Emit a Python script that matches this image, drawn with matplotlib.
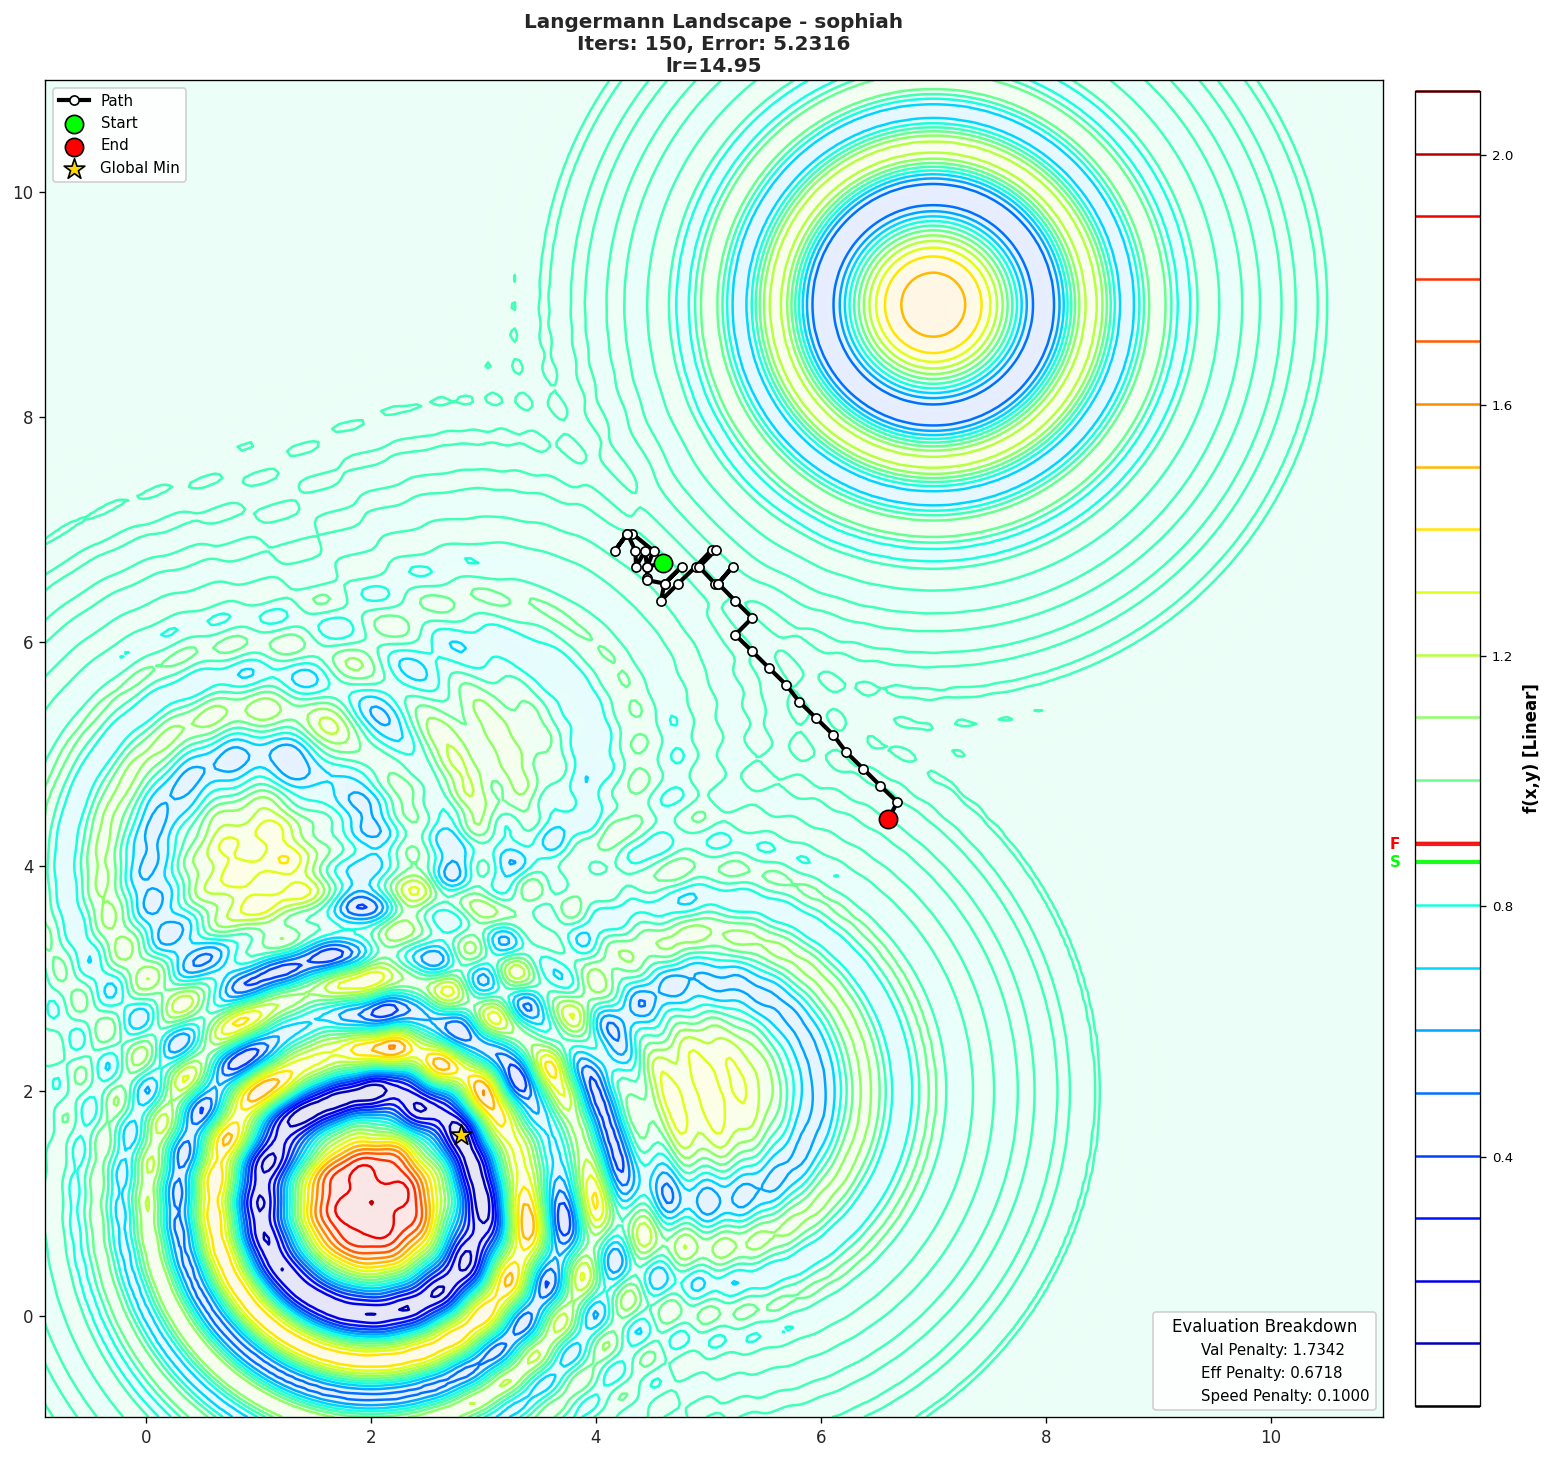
# Langermann landscape with optimizer path
import matplotlib
matplotlib.use("Agg")
import matplotlib.pyplot as plt
from matplotlib.lines import Line2D
import numpy as np

# Function parameters
centers_x = [3, 5, 2, 1, 7]
centers_y = [5, 2, 1, 4, 9]
weights = [1, 2, 5, 2, 3]
offset = 0.8942
scale = 0.2150

# Contour levels
level_min = 0.002
level_max = 2.102
n_levels = 22

# Optimizer path
path_x = [4.595, 4.456, 4.512, 4.322, 4.280, 4.167, 4.280, 4.351, 4.357, 4.435, 4.456, 4.456,
          4.456, 4.610, 4.761, 4.610, 4.577, 4.731, 4.886, 5.028, 5.064, 4.918, 5.058, 5.087,
          5.215, 5.087, 5.239, 5.390, 5.239, 5.390, 5.542, 5.693, 5.809, 5.957, 6.111, 6.227,
          6.379, 6.530, 6.681, 6.601]
path_y = [6.702, 6.667, 6.809, 6.963, 6.963, 6.809, 6.963, 6.809, 6.667, 6.809, 6.667, 6.569,
          6.548, 6.518, 6.667, 6.518, 6.364, 6.518, 6.667, 6.815, 6.815, 6.667, 6.518, 6.518,
          6.667, 6.518, 6.364, 6.213, 6.061, 5.915, 5.764, 5.616, 5.465, 5.322, 5.171, 5.016,
          4.868, 4.717, 4.574, 4.423]
global_min = (2.796, 1.612)
start_value = 0.870
final_value = 0.899

breakdown = ["Val Penalty: 1.7342", "Eff Penalty: 0.6718", "Speed Penalty: 0.1000"]


def landscape(x, y):
    z = np.zeros_like(x)
    for cx, cy, w in zip(centers_x, centers_y, weights):
        r2 = (x - cx) ** 2 + (y - cy) ** 2
        z += w * np.exp(-r2 / np.pi) * np.cos(np.pi * r2)
    return offset + scale * z


W, H = 1550, 1459
fig = plt.figure(figsize=(W / 120, H / 120), dpi=120)
ax = fig.add_axes([45 / W, 1 - 1417 / H, 1338 / W, 1337 / H])
cax = fig.add_axes([1414.5 / W, 1 - 1406 / H, 65.5 / W, 1315 / H])

xs = np.linspace(-0.9, 11, 300)
ys = np.linspace(-0.9, 11, 300)
X, Y = np.meshgrid(xs, ys)
Z = landscape(X, Y)
levels = np.linspace(level_min, level_max, n_levels)

# Pale background and contour lines
ax.imshow(Z, extent=[-0.9, 11, -0.9, 11], origin="lower", cmap="jet", vmin=level_min, vmax=level_max,
          alpha=0.1, aspect="auto", interpolation="bilinear")
cs = ax.contour(X, Y, Z, levels=levels, cmap="jet", linewidths=1.5)

# Path
ax.plot(path_x, path_y, "-o", color="black", lw=2.5, ms=5.5, mfc="white", mec="black", mew=1, label="Path", zorder=5)
ax.scatter(path_x[0], path_y[0], s=120, c="lime", edgecolors="black", linewidths=1, label="Start", zorder=6)
ax.scatter(path_x[-1], path_y[-1], s=120, c="red", edgecolors="black", linewidths=1, label="End", zorder=6)
ax.scatter(global_min[0], global_min[1], s=170, c="gold", marker="*", edgecolors="black", linewidths=1, label="Global Min", zorder=6)

ax.set_xlim(-0.9, 11)
ax.set_ylim(-0.9, 11)
ax.set_xticks([0, 2, 4, 6, 8, 10])
ax.set_yticks([0, 2, 4, 6, 8, 10])
ax.tick_params(labelsize=10, labelcolor="#262626")
ax.set_title("Langermann Landscape - sophiah\nIters: 150, Error: 5.2316\nlr=14.95",
             fontsize=12, fontweight="bold", color="#262626", pad=5)

leg1 = ax.legend(loc="upper left", fontsize=9, framealpha=0.9)
ax.add_artist(leg1)

# Breakdown box
handles = [Line2D([], [], color="none", label=t) for t in breakdown]
ax.legend(handles=handles, loc="lower right", fontsize=9, title="Evaluation Breakdown",
          title_fontsize=10, framealpha=0.9)

# Colorbar
cb = fig.colorbar(cs, cax=cax)
cb.set_ticks([0.4, 0.8, 1.2, 1.6, 2.0])
cb.ax.tick_params(labelsize=8)
cb.set_label("f(x,y) [Linear]", fontsize=10, fontweight="bold", labelpad=6)
cax.axhline(final_value, color="red", lw=2.5, alpha=0.9)
cax.axhline(start_value, color="lime", lw=2.5, alpha=0.9)
tr = cax.get_yaxis_transform()
cax.text(-0.3, final_value, "F", color="red", fontweight="bold", fontsize=9, ha="center", va="center", transform=tr)
cax.text(-0.3, start_value, "S", color="lime", fontweight="bold", fontsize=9, ha="center", va="center", transform=tr)

fig.savefig("out.png", dpi=120)
